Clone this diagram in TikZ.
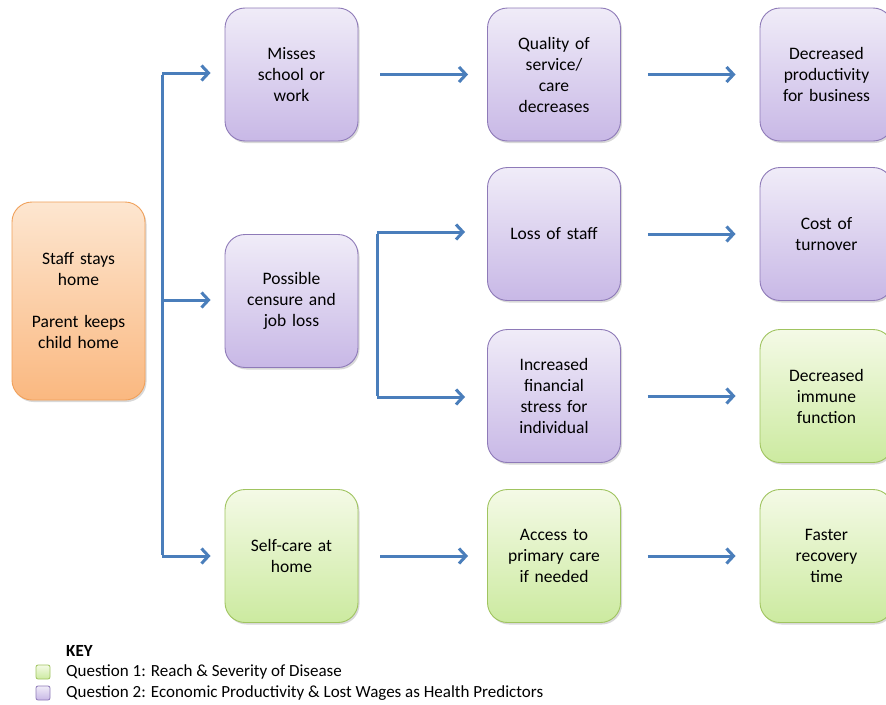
\documentclass[tikz,border=0pt]{standalone}
\usepackage{fontspec}
\setmainfont{Carlito}
\usetikzlibrary{arrows.meta,shadows}
\definecolor{arrowblue}{RGB}{74,126,187}
\definecolor{purpTop}{RGB}{240,236,248}
\definecolor{purpBot}{RGB}{200,184,230}
\definecolor{purpLine}{RGB}{142,122,184}
\definecolor{grnTop}{RGB}{244,250,230}
\definecolor{grnBot}{RGB}{204,234,160}
\definecolor{grnLine}{RGB}{160,196,96}
\definecolor{orTop}{RGB}{253,230,208}
\definecolor{orBot}{RGB}{250,184,128}
\definecolor{orLine}{RGB}{240,160,90}
\tikzset{
  box/.style={rounded corners=20pt, minimum width=133pt, minimum height=133pt,
    text width=125pt, align=center, line width=0.9pt,
    font=\fontsize{17.5}{21}\selectfont,
    drop shadow={shadow xshift=1.5pt, shadow yshift=-2pt, opacity=0.25, fill=black!60}},
  pbox/.style={box, draw=purpLine, top color=purpTop, bottom color=purpBot},
  gbox/.style={box, draw=grnLine, top color=grnTop, bottom color=grnBot},
  obox/.style={box, draw=orLine, top color=orTop, bottom color=orBot},
  arr/.style={draw=arrowblue, line width=3pt, -{Straight Barb[length=7pt,width=15pt,line width=3pt]}},
  trunk/.style={draw=arrowblue, line width=3pt},
  keysq/.style={draw, line width=0.8pt, rounded corners=2pt, minimum width=14pt, minimum height=14pt, inner sep=0pt},
  keytxt/.style={anchor=west, inner sep=0pt, font=\fontsize{17}{20}\selectfont}
}
\begin{document}
\begin{tikzpicture}[x=1pt,y=-1pt]
\useasboundingbox (0,0) rectangle (886,704);
\fill[white] (0,0) rectangle (886,704);
% column 1
\node[obox, minimum height=198pt] (start) at (78.5,301) {Staff stays\\home\\[21pt]Parent keeps\\child home};
% column 2
\node[pbox] (miss) at (291.5,74.5) {Misses\\school or\\work};
\node[pbox] (cens) at (291.5,301) {Possible\\censure and\\job loss};
\node[gbox] (self) at (291.5,556) {Self-care at\\home};
% column 3
\node[pbox] (qual) at (554,74.5) {Quality of\\service/\\care\\decreases};
\node[pbox] (loss) at (554,234) {Loss of staff\\[42pt]};
\node[pbox] (fin) at (554,396) {Increased\\financial\\stress for\\individual};
\node[gbox] (acc) at (554,556) {Access to\\primary care\\if needed};
% column 4
\node[pbox] (prod) at (826.5,74.5) {Decreased\\productivity\\for business};
\node[pbox] (turn) at (826.5,234) {Cost of\\turnover\\[21pt]};
\node[gbox] (imm) at (826.5,396) {Decreased\\immune\\function};
\node[gbox] (fast) at (826.5,556) {Faster\\recovery\\time};
% trunk
\coordinate (tTop) at (162,73);
\coordinate (tMid) at (162,300);
\coordinate (tBot) at (162,556);
\draw[trunk] ([yshift=-1.5pt]tTop) -- ([yshift=1.5pt]tBot);
\draw[arr, shorten >=14pt] (tTop) -- (tTop -| miss.west);
\draw[arr, shorten >=14pt] (tMid) -- (tMid -| cens.west);
\draw[arr, shorten >=14pt] (tBot) -- (self.west);
% branch
\coordinate (bTop) at (377,232);
\coordinate (bBot) at (377,397);
\draw[trunk] ([yshift=-1.5pt]bTop) -- ([yshift=1.5pt]bBot);
\draw[arr, shorten >=22pt] (bTop) -- (bTop -| loss.west);
\draw[arr, shorten >=22pt] (bBot) -- (bBot -| fin.west);
% row arrows
\draw[arr, shorten <=22pt, shorten >=19pt] (miss.east) -- (qual.west);
\draw[arr, shorten <=22pt, shorten >=19pt] (self.east) -- (acc.west);
\draw[arr, shorten <=27pt, shorten >=24pt] (qual.east) -- (prod.west);
\draw[arr, shorten <=27pt, shorten >=24pt] (loss.east) -- (turn.west);
\draw[arr, shorten <=27pt, shorten >=24pt] (fin.east) -- (imm.west);
\draw[arr, shorten <=27pt, shorten >=24pt] (acc.east) -- (fast.west);
% key
\node[keytxt, font=\fontsize{17}{20}\selectfont\bfseries] (keyt) at (66,651) {KEY};
\node[keysq, draw=grnLine, top color=grnTop, bottom color=grnBot] (k1) at (43,672) {};
\node[keytxt] (k1t) at (66,672) {Question 1: Reach \& Severity of Disease};
\node[keysq, draw=purpLine, top color=purpTop, bottom color=purpBot] (k2) at (43,693) {};
\node[keytxt] (k2t) at (66,693) {Question 2: Economic Productivity \& Lost Wages as Health Predictors};
\end{tikzpicture}
\end{document}
